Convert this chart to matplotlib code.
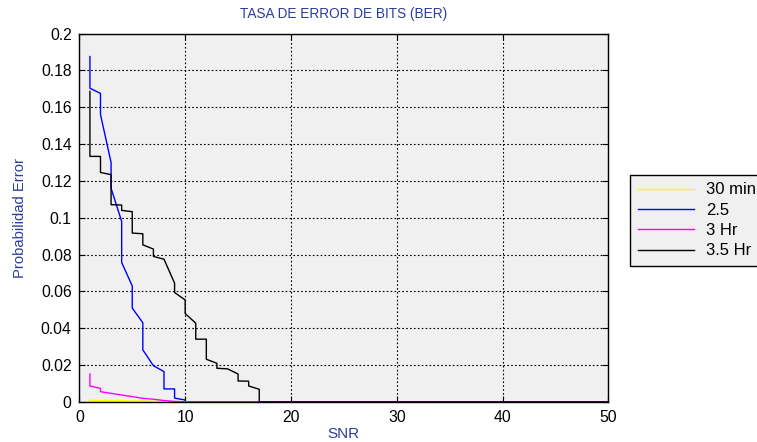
import matplotlib
matplotlib.use("Agg")
import matplotlib.pyplot as plt
from matplotlib.ticker import FuncFormatter, MultipleLocator

plt.rcParams.update({"font.family": ["Liberation Sans", "DejaVu Sans"], "figure.dpi": 100})

LABEL_BLUE = "#2b3d9c"

# --- data ---
snr_30min = [1, 2, 3, 4, 5, 6, 7, 8, 9, 10, 11, 50]
ber_30min = [0.0009, 0.0008, 0.0008, 0.0007, 0.0006, 0.0005, 0.0004, 0.0003, 0.0002, 0.0001, 0.0, 0.0]

snr_25 = [1, 1, 2, 2, 3, 3, 4, 4, 5, 5, 6, 6, 7, 8, 8, 9, 9, 10, 10, 50]
ber_25 = [0.1875, 0.1703, 0.1675, 0.156, 0.130, 0.116, 0.098, 0.0757, 0.063, 0.051,
          0.043, 0.0283, 0.0197, 0.0165, 0.0071, 0.0071, 0.0021, 0.0011, 0.0, 0.0]

snr_3h = [1, 1, 2, 2, 3, 4, 5, 6, 7, 8, 9, 10, 50]
ber_3h = [0.0152, 0.0087, 0.0074, 0.0056, 0.0047, 0.0038, 0.0029, 0.0020, 0.0015,
          0.0008, 0.0003, 0.0001, 0.0]

snr_35h = [1, 1, 2, 2, 3, 3, 4, 4, 5, 5, 6, 6, 7, 7, 8, 9, 9, 10, 10, 11, 11, 12, 12,
           13, 13, 14, 15, 15, 16, 16, 17, 17, 50]
ber_35h = [0.1686, 0.1333, 0.1333, 0.1246, 0.1234, 0.1071, 0.1069, 0.1040, 0.1033, 0.0917,
           0.0913, 0.0853, 0.0830, 0.0790, 0.0775, 0.0645, 0.0594, 0.0554, 0.0480, 0.0428,
           0.0341, 0.0341, 0.0232, 0.0210, 0.0183, 0.0180, 0.0152, 0.0114, 0.0113, 0.0087,
           0.0069, 0.0, 0.0]

labels = ["30 min", "2.5", "3 Hr", "3.5 Hr"]
colors = ["#ffff00", "#0000ff", "#ff00ff", "#000000"]

fig = plt.figure(figsize=(7.57, 4.42))
ax = fig.add_axes([0.1048, 0.0905, 0.699, 0.8337])
ax.set_facecolor("#f0f0f0")

series = [(snr_30min, ber_30min), (snr_25, ber_25), (snr_3h, ber_3h), (snr_35h, ber_35h)]
for (x, y), lab, c in zip(series, labels, colors):
    ax.plot(x, y, color=c, lw=1.0, label=lab)

ax.set_xlim(0, 50)
ax.set_ylim(0, 0.2)
ax.xaxis.set_major_locator(MultipleLocator(10))
ax.yaxis.set_major_locator(MultipleLocator(0.02))
ax.yaxis.set_major_formatter(FuncFormatter(lambda v, p: f"{v:g}" if abs(v) > 1e-9 else "0"))
ax.tick_params(direction="in", top=True, right=True, labelsize=11.3, length=4, width=0.8)
ax.tick_params(axis="y", pad=5.5)
ax.tick_params(axis="x", pad=5.5)
ax.grid(True, color="black", ls=(0, (1.5, 2)), lw=0.8)
for s in ax.spines.values():
    s.set_linewidth(1.0)

ax.set_title("TASA DE ERROR DE BITS (BER)", fontsize=9.8, color=LABEL_BLUE, pad=11)
ax.set_xlabel("SNR", fontsize=11, color=LABEL_BLUE, labelpad=2)
ax.set_ylabel("Probabilidad Error", fontsize=10.6, color=LABEL_BLUE, labelpad=10)

leg = fig.legend(loc="upper left", bbox_to_anchor=(630 / 757, 1 - 175 / 442),
                 fontsize=12, frameon=True, fancybox=False, handlelength=3.4,
                 handletextpad=0.7, labelspacing=0.32, borderpad=0.45, borderaxespad=0)
leg.get_frame().set_edgecolor("black")
leg.get_frame().set_facecolor("#f0f0f0")
leg.get_frame().set_linewidth(1.0)
leg.get_frame().set_alpha(1)

fig.savefig("out.png", dpi=100)
